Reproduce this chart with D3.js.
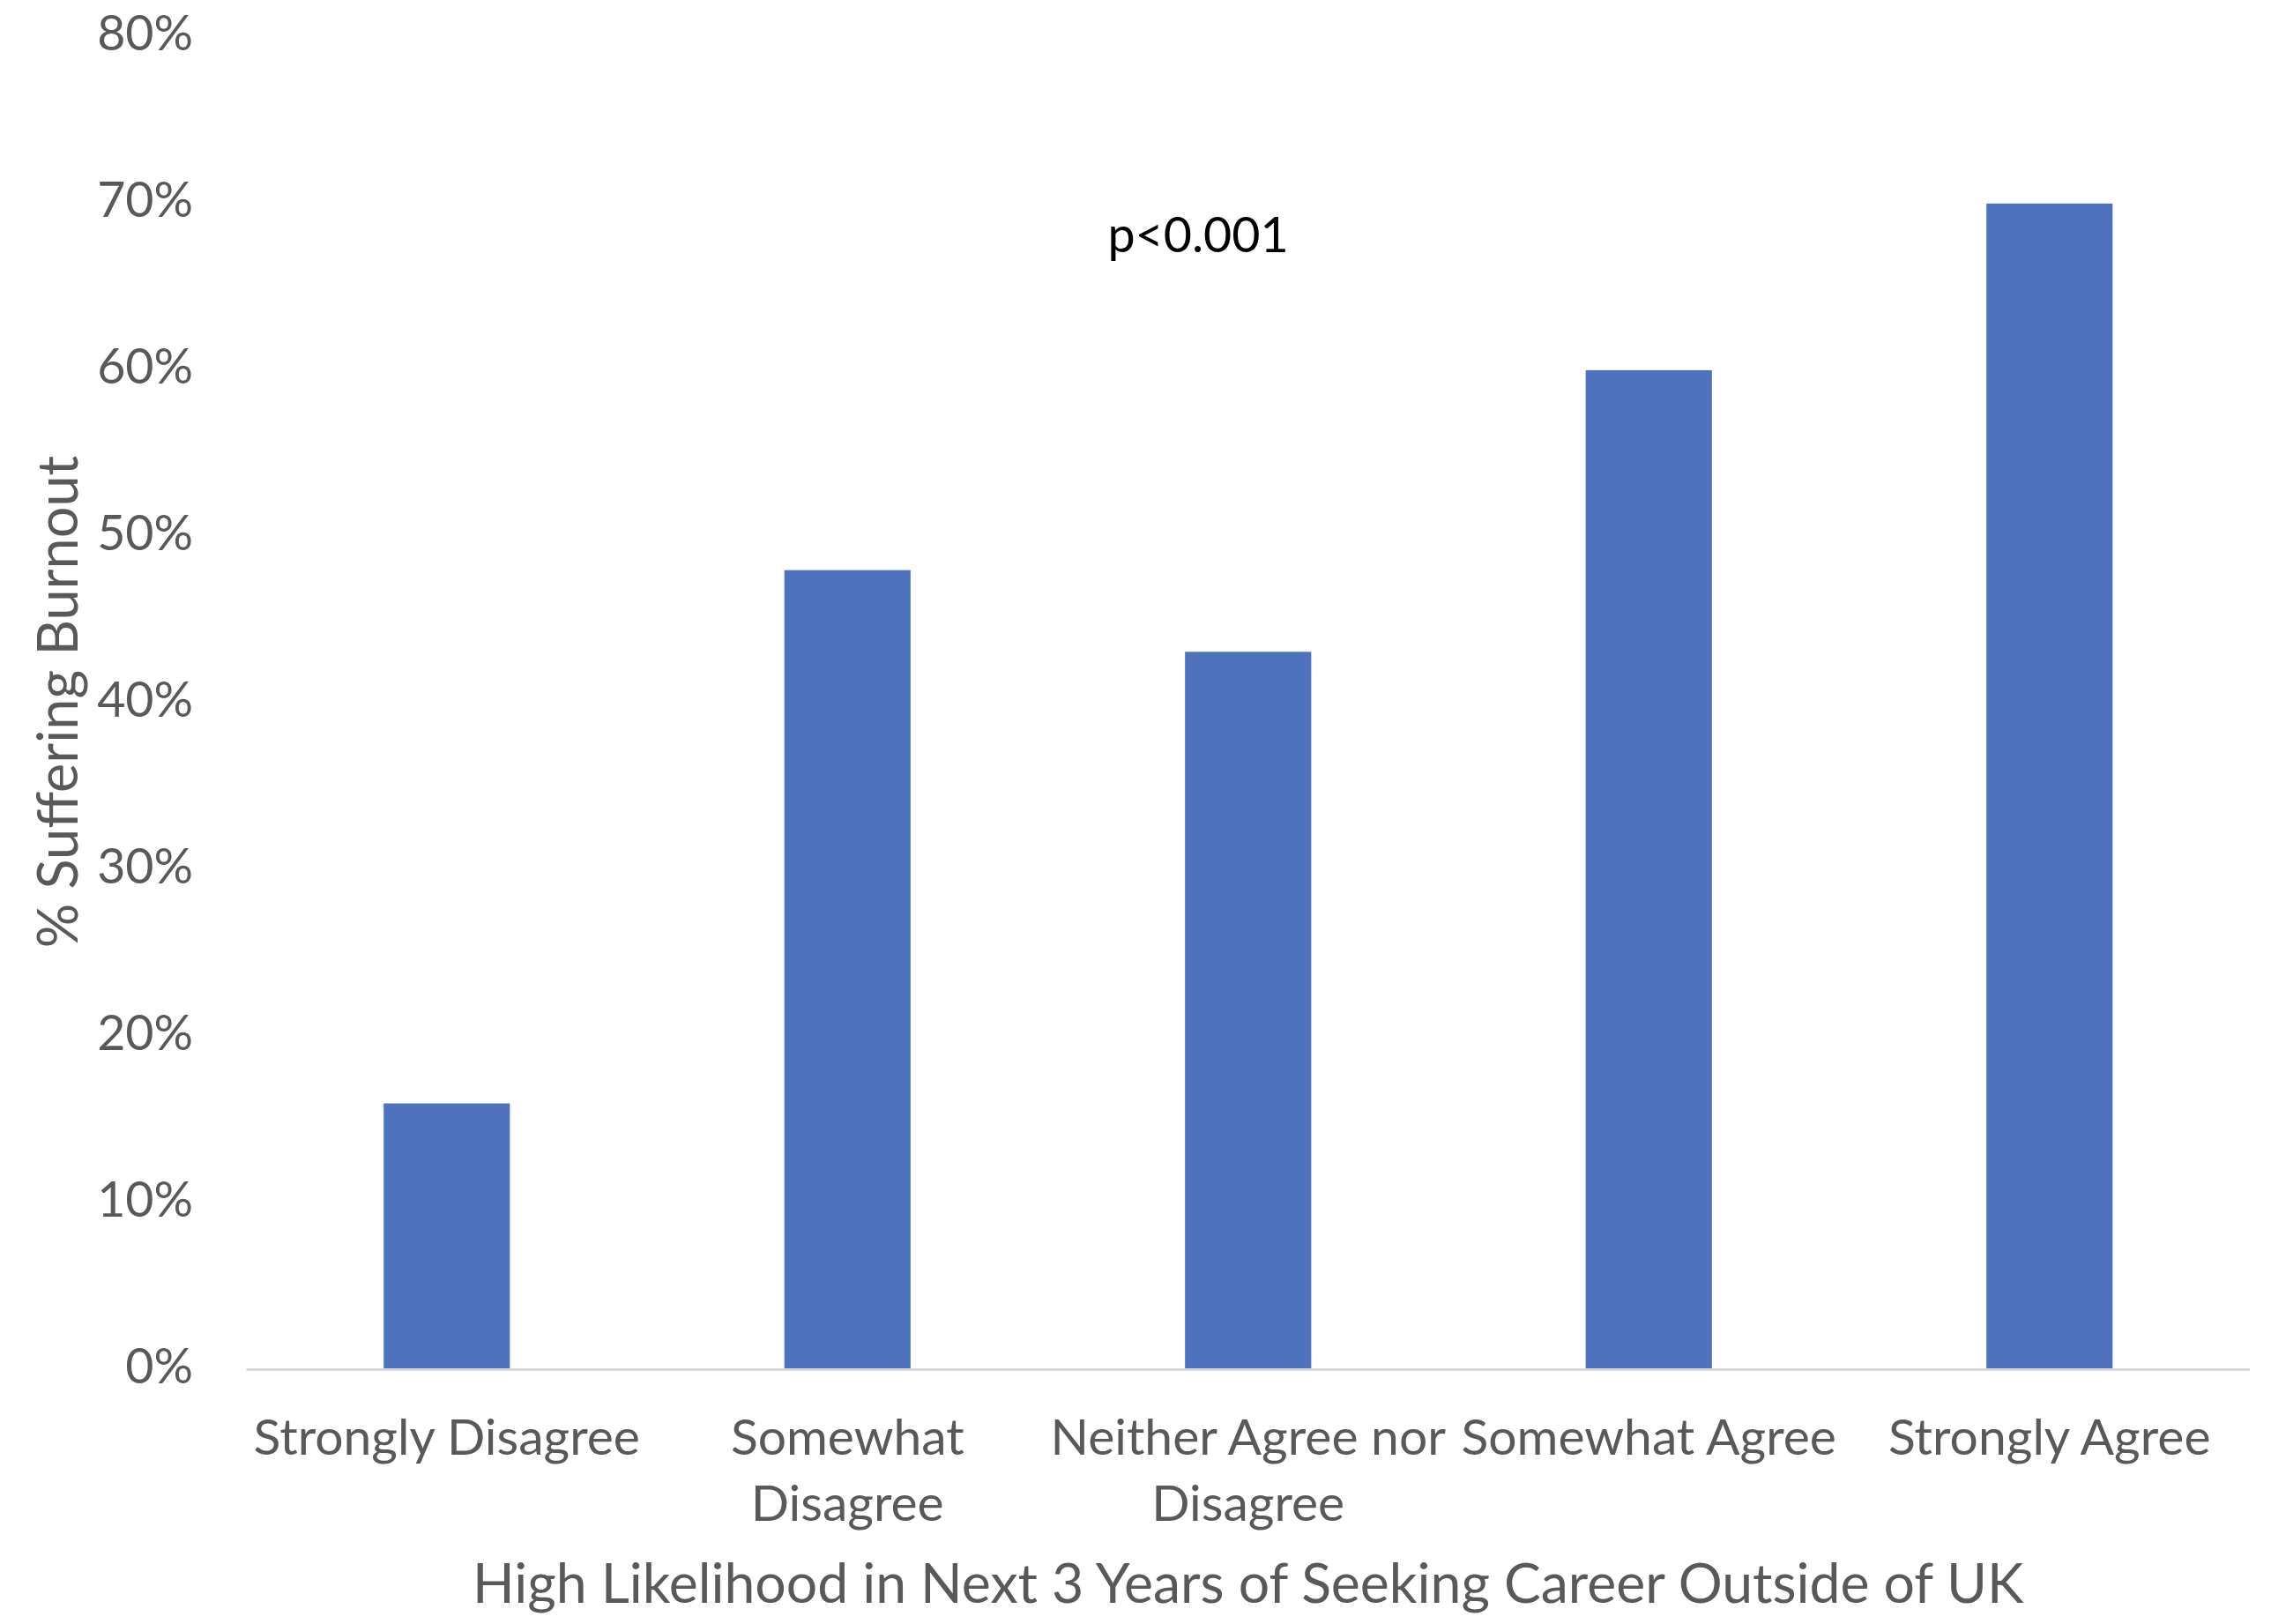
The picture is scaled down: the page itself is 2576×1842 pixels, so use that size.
<!DOCTYPE html>
<html>
<head>
<meta charset="utf-8">
<script src="https://cdn.jsdelivr.net/npm/d3@7"></script>
<style>
  html, body { margin: 0; padding: 0; background: #ffffff; }
  svg { display: block; }
  text { font-family: Lato, "Open Sans", sans-serif; }
</style>
</head>
<body>
<script>
const categories = ["Strongly Disagree", "Somewhat\nDisagree", "Neither Agree nor\nDisagree", "Somewhat Agree", "Strongly Agree"];
const values = [0.159, 0.479, 0.430, 0.599, 0.699];
const yTicks = [0, 0.1, 0.2, 0.3, 0.4, 0.5, 0.6, 0.7, 0.8];
const xTitle = "High Likelihood in Next 3 Years of Seeking Career Outside of UK";
const yTitle = "% Suffering Burnout";
const annotation = "p<0.001";

const W = 2576, H = 1842;
const margin = { left: 279.5, right: W - 2552, top: 40, bottom: H - 1552 };

const svg = d3.select("body").append("svg").attr("width", W).attr("height", H);

const x = d3.scaleBand().domain(categories).range([margin.left, W - margin.right]).paddingInner(0.685).paddingOuter(0.3425);
const y = d3.scaleLinear().domain([0, 0.8]).range([H - margin.bottom, margin.top]);

const tickColor = "#595959";

// bars
svg.append("g").selectAll("rect").data(categories).join("rect")
  .attr("x", d => x(d))
  .attr("width", x.bandwidth())
  .attr("y", (d, i) => y(values[i]))
  .attr("height", (d, i) => y(0) - y(values[i]))
  .attr("fill", "#4e72be");

// x axis line
svg.append("line")
  .attr("x1", margin.left).attr("x2", W - margin.right)
  .attr("y1", y(0) + 1.5).attr("y2", y(0) + 1.5)
  .attr("stroke", "#d9d9d9").attr("stroke-width", 3);

// y axis
const yAxis = d3.axisLeft(y).tickValues(yTicks).tickFormat(d3.format(".0%")).tickSize(0).tickPadding(0);
const yg = svg.append("g").attr("transform", `translate(219,0)`).call(yAxis);
yg.select(".domain").remove();
yg.selectAll("text").attr("fill", tickColor).style("font-size", "55.5px").attr("dy", "0.3em").style("font-family", "Lato");

// x labels
const xg = svg.append("g");
categories.forEach(c => {
  const lines = c.split("\n");
  const t = xg.append("text")
    .attr("x", x(c) + x.bandwidth() / 2)
    .attr("y", 1650)
    .attr("text-anchor", "middle")
    .attr("fill", tickColor)
    .style("font-size", "57px");
  lines.forEach((l, i) => {
    t.append("tspan").attr("x", x(c) + x.bandwidth() / 2).attr("dy", i === 0 ? 0 : 75).text(l);
  });
});

// x title
svg.append("text")
  .attr("x", (margin.left + W - margin.right) / 2)
  .attr("y", 1818)
  .attr("text-anchor", "middle")
  .attr("fill", tickColor)
  .style("font-size", "62.5px")
  .text(xTitle);

// y title
svg.append("text")
  .attr("transform", `translate(88, ${(y(0) + y(0.8)) / 2}) rotate(-90)`)
  .attr("text-anchor", "middle")
  .attr("fill", tickColor)
  .style("font-size", "63px")
  .text(yTitle);

// annotation
svg.append("text")
  .attr("x", 1359)
  .attr("y", 286)
  .attr("text-anchor", "middle")
  .attr("fill", "#000000")
  .style("font-size", "55.5px")
  .text(annotation);
</script>
</body>
</html>
